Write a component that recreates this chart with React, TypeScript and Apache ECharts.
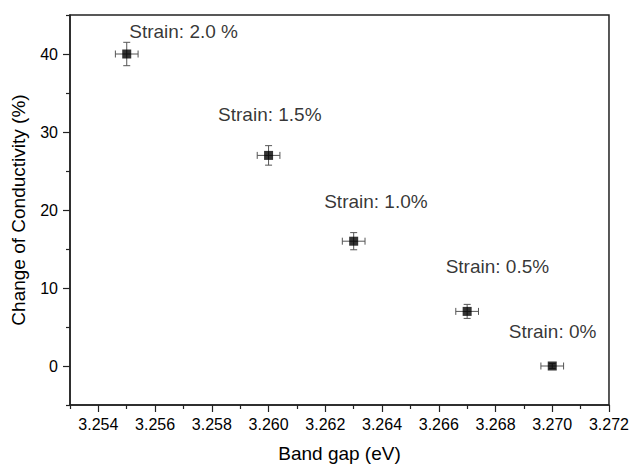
import React, { useEffect, useRef } from "react";
import * as echarts from "echarts";

// Data
const xValues = [3.255, 3.26, 3.263, 3.267, 3.27];
const yValues = [40, 27, 16, 7, 0];
const xErrors = [0.0004, 0.0004, 0.0004, 0.0004, 0.0004];
const yErrors = [1.5, 1.25, 1.1, 0.9, 0.3];
const strainLabels = ["Strain: 2.0 %", "Strain: 1.5%", "Strain: 1.0%", "Strain: 0.5%", "Strain: 0%"];

// Ticks
const xMajorTicks = [3.254, 3.256, 3.258, 3.26, 3.262, 3.264, 3.266, 3.268, 3.27, 3.272];
const xMinorTicks = [3.253, 3.255, 3.257, 3.259, 3.261, 3.263, 3.265, 3.267, 3.269, 3.271];
const yMajorTicks = [0, 10, 20, 30, 40];
const yMinorTicks = [-5, 5, 15, 25, 35, 45];

// Label placement (pixel offsets, layout only)
const labelOffsets: [number, number][] = [
  [7, -18],
  [-46, -36],
  [-25, -35],
  [-17, -40],
  [-39, -30],
];

const FONT = "'Liberation Sans', Arial, Helvetica, sans-serif";
const AXIS_COLOR = "#222";
const TEXT_COLOR = "#000";

export default function App() {
  const ref = useRef<HTMLDivElement>(null);

  useEffect(() => {
    if (!ref.current) return;
    const chart = echarts.init(ref.current, undefined, { renderer: "svg" });

    const points = xValues.map((x, i) => ({
      value: [x, yValues[i]],
      label: {
        show: true,
        formatter: strainLabels[i],
        position: labelOffsets[i],
        align: "left",
        verticalAlign: "middle",
        fontSize: 19,
        fontFamily: FONT,
        color: TEXT_COLOR,
      },
    }));

    const errData = xValues.map((x, i) => [x, yValues[i], xErrors[i], yErrors[i]]);

    const xBase = {
      type: "value",
      min: 3.253,
      max: 3.272,
      position: "bottom",
      splitLine: { show: false },
    };
    const yBase = {
      type: "value",
      min: -5,
      max: 45,
      position: "left",
      splitLine: { show: false },
    };

    chart.setOption({
      animation: false,
      backgroundColor: "#fff",
      grid: {
        left: 70,
        top: 15,
        width: 540,
        height: 397,
        show: true,
        borderColor: AXIS_COLOR,
        borderWidth: 1.5,
        backgroundColor: "transparent",
      },
      xAxis: [
        {
          ...xBase,
          name: "Band gap (eV)",
          nameLocation: "middle",
          nameGap: 39,
          nameTextStyle: { fontSize: 19, fontFamily: FONT, color: TEXT_COLOR },
          axisLine: { show: true, onZero: false, lineStyle: { color: AXIS_COLOR, width: 1.5 } },
          axisTick: {
            show: true,
            length: 7,
            customValues: xMajorTicks,
            lineStyle: { color: AXIS_COLOR, width: 1.2 },
          },
          axisLabel: {
            customValues: xMajorTicks,
            formatter: (v: number) => v.toFixed(3),
            fontSize: 16,
            fontFamily: FONT,
            color: TEXT_COLOR,
            margin: 11,
          },
        },
        {
          ...xBase,
          axisLine: { show: false, onZero: false },
          axisTick: {
            show: true,
            length: 4,
            customValues: xMinorTicks,
            lineStyle: { color: AXIS_COLOR, width: 1.2 },
          },
          axisLabel: { show: false },
        },
      ],
      yAxis: [
        {
          ...yBase,
          name: "Change of Conductivity (%)",
          nameLocation: "middle",
          nameGap: 42,
          nameTextStyle: { fontSize: 19, fontFamily: FONT, color: TEXT_COLOR },
          axisLine: { show: true, onZero: false, lineStyle: { color: AXIS_COLOR, width: 1.5 } },
          axisTick: {
            show: true,
            length: 7,
            customValues: yMajorTicks,
            lineStyle: { color: AXIS_COLOR, width: 1.2 },
          },
          axisLabel: {
            customValues: yMajorTicks,
            fontSize: 16,
            fontFamily: FONT,
            color: TEXT_COLOR,
            margin: 12,
          },
        },
        {
          ...yBase,
          axisLine: { show: false, onZero: false },
          axisTick: {
            show: true,
            length: 4,
            customValues: yMinorTicks,
            lineStyle: { color: AXIS_COLOR, width: 1.2 },
          },
          axisLabel: { show: false },
        },
      ],
      series: [
        {
          type: "custom",
          xAxisIndex: 0,
          yAxisIndex: 0,
          encode: { x: 0, y: 1 },
          data: errData,
          z: 2,
          renderItem: (params: any, api: any) => {
            const x = api.value(0);
            const y = api.value(1);
            const ex = api.value(2);
            const ey = api.value(3);
            const l = api.coord([x - ex, y]);
            const r = api.coord([x + ex, y]);
            const t = api.coord([x, y + ey]);
            const b = api.coord([x, y - ey]);
            const cap = 3.5;
            const style = { stroke: "#555", lineWidth: 1 };
            const line = (x1: number, y1: number, x2: number, y2: number) => ({
              type: "line",
              shape: { x1, y1, x2, y2 },
              style,
            });
            return {
              type: "group",
              children: [
                line(l[0], l[1], r[0], r[1]),
                line(l[0], l[1] - cap, l[0], l[1] + cap),
                line(r[0], r[1] - cap, r[0], r[1] + cap),
                line(t[0], t[1], b[0], b[1]),
                line(t[0] - cap, t[1], t[0] + cap, t[1]),
                line(b[0] - cap, b[1], b[0] + cap, b[1]),
              ],
            };
          },
        },
        {
          type: "scatter",
          xAxisIndex: 0,
          yAxisIndex: 0,
          symbol: "rect",
          symbolSize: 9,
          itemStyle: { color: "#000" },
          z: 3,
          data: points,
        },
      ],
    });

    return () => chart.dispose();
  }, []);

  return (
    <div
      ref={ref}
      style={{ position: "fixed", left: 0, top: 0, width: 632, height: 468 }}
    />
  );
}
